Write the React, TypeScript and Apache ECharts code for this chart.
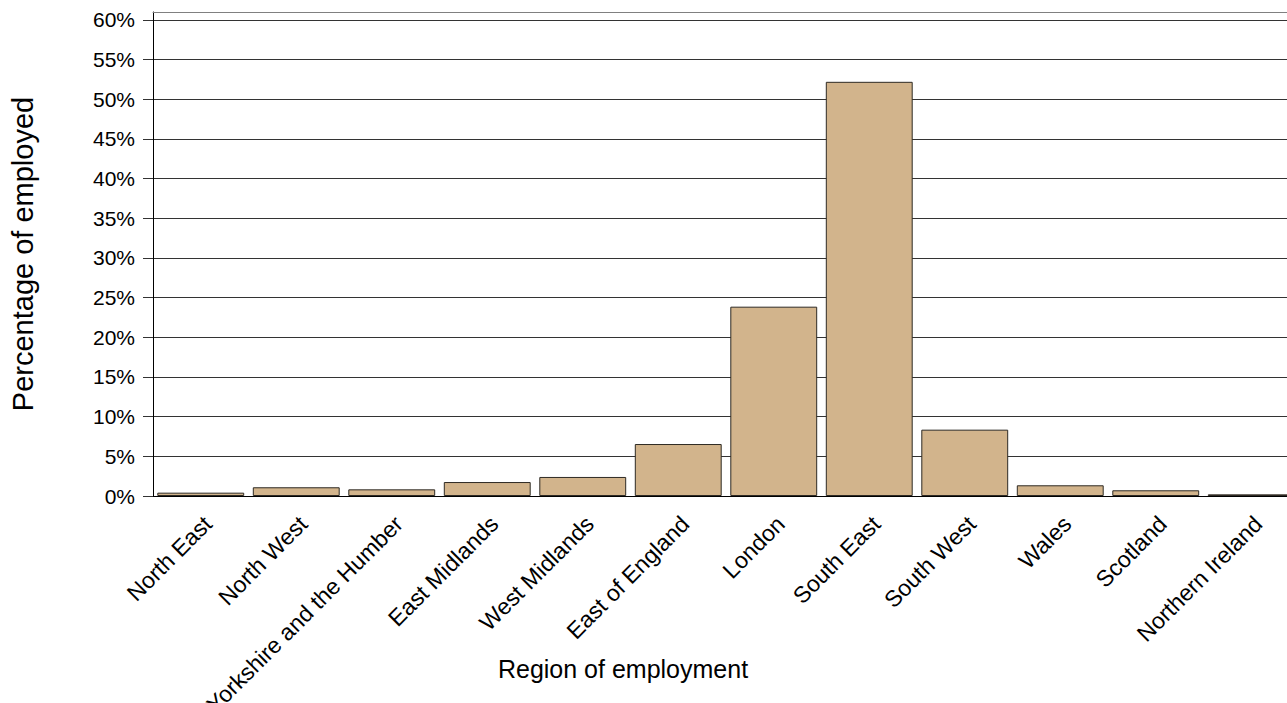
import React, { useEffect, useRef } from "react";
import * as echarts from "echarts";

const categories = [
  "North East",
  "North West",
  "Yorkshire and the Humber",
  "East Midlands",
  "West Midlands",
  "East of England",
  "London",
  "South East",
  "South West",
  "Wales",
  "Scotland",
  "Northern Ireland",
];
const values = [0.42, 1.1, 0.84, 1.76, 2.4, 6.55, 23.86, 52.2, 8.36, 1.35, 0.72, 0.21];
const yTicks = [0, 5, 10, 15, 20, 25, 30, 35, 40, 45, 50, 55, 60];

const FONT = "'Liberation Sans', Arial, Helvetica, sans-serif";

export default function App() {
  const ref = useRef<HTMLDivElement>(null);
  useEffect(() => {
    if (!ref.current) return;
    const chart = echarts.init(ref.current, null, { renderer: "svg" });
    const gridTop = 12;
    const gridBottom = 207;
    const gridLeft = 153;
    const gridRight = 1;
    const labelShift = 7;
    chart.setOption({
      animation: false,
      backgroundColor: "#ffffff",
      textStyle: { fontFamily: FONT, color: "#000" },
      grid: [
        {
          left: gridLeft,
          right: gridRight,
          top: gridTop,
          bottom: gridBottom,
          containLabel: false,
          outerBoundsMode: "none",
        },
        {
          left: gridLeft + labelShift,
          right: gridRight - labelShift,
          top: gridTop,
          bottom: gridBottom,
          containLabel: false,
          outerBoundsMode: "none",
        },
      ],
      xAxis: [
        {
          type: "category",
          gridIndex: 0,
          data: categories,
          position: "bottom",
          axisLine: { show: true, lineStyle: { color: "#000", width: 1 } },
          axisTick: { show: false },
          axisLabel: { show: false },
          splitLine: { show: false },
          name: "Region of employment",
          nameLocation: "middle",
          nameGap: 160,
          nameTextStyle: {
            fontSize: 25,
            fontFamily: FONT,
            color: "#000",
            padding: [0, 206, 0, 0],
          },
        },
        {
          type: "category",
          gridIndex: 1,
          data: categories,
          position: "bottom",
          axisLine: { show: false },
          axisTick: { show: false },
          splitLine: { show: false },
          axisLabel: {
            show: true,
            interval: 0,
            rotate: 45,
            margin: 24,
            fontSize: 23,
            fontFamily: FONT,
            color: "#000",
          },
        },
        {
          type: "category",
          gridIndex: 0,
          data: categories,
          position: "top",
          axisLine: { show: true, lineStyle: { color: "#808080", width: 1 } },
          axisTick: { show: false },
          axisLabel: { show: false },
          splitLine: { show: false },
        },
      ],
      yAxis: [
        {
          type: "value",
          gridIndex: 0,
          min: 0,
          max: 61,
          interval: 5,
          axisLine: { show: true, lineStyle: { color: "#000", width: 1 } },
          axisTick: {
            show: true,
            length: 10,
            customValues: yTicks,
            lineStyle: { color: "#333" },
          },
          axisLabel: {
            show: true,
            customValues: yTicks,
            formatter: "{value}%",
            fontSize: 21,
            fontFamily: FONT,
            color: "#000",
            margin: 18,
          },
          splitLine: { show: true, lineStyle: { color: "#333", width: 1 } },
          name: "Percentage of employed",
          nameLocation: "middle",
          nameGap: 116,
          nameTextStyle: { fontSize: 29, fontFamily: FONT, color: "#000" },
        },
        {
          type: "value",
          gridIndex: 1,
          min: 0,
          max: 61,
          show: false,
        },
      ],
      series: [
        {
          type: "bar",
          xAxisIndex: 0,
          yAxisIndex: 0,
          data: values,
          barCategoryGap: "9%",
          itemStyle: { color: "#D2B48C", borderColor: "#2e2a24", borderWidth: 1 },
        },
      ],
    });
    return () => chart.dispose();
  }, []);
  return (
    <div
      ref={ref}
      style={{ position: "fixed", left: 0, top: 0, width: 1300, height: 703, background: "#fff" }}
    />
  );
}
